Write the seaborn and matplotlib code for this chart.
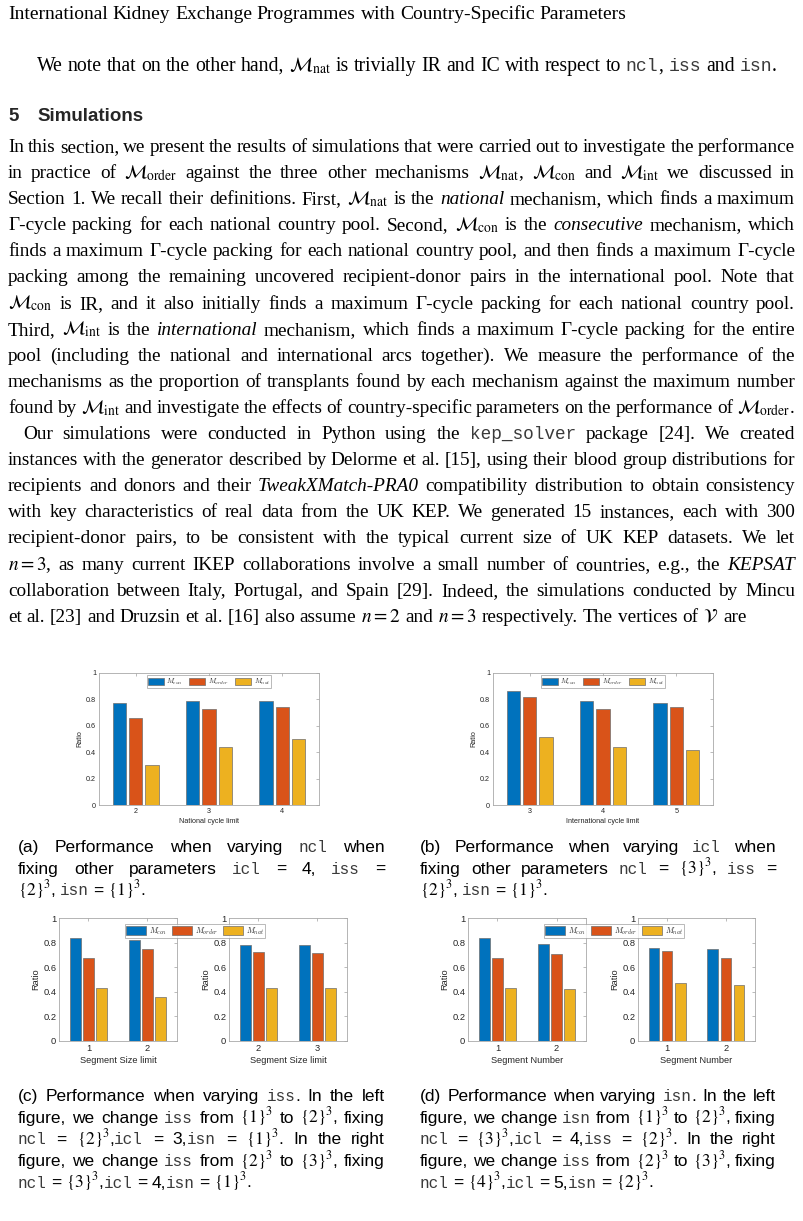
import numpy as np
import pandas as pd
import matplotlib
matplotlib.use('Agg')
import matplotlib.pyplot as plt
from matplotlib import font_manager
from matplotlib.patches import Patch
from matplotlib.ticker import FormatStrFormatter
import seaborn as sns

# --- data ---
mechs = ['$M_{con}$', '$M_{order}$', '$M_{nat}$']
colors = ['#0072BD', '#D95319', '#EDB120']

ncl_vals = ['2', '3', '4']
ncl_con = [0.776, 0.786, 0.791]
ncl_order = [0.656, 0.726, 0.739]
ncl_nat = [0.302, 0.437, 0.500]

icl_vals = ['3', '4', '5']
icl_con = [0.865, 0.787, 0.772]
icl_order = [0.815, 0.728, 0.744]
icl_nat = [0.515, 0.437, 0.416]

iss_left_vals = ['1', '2']
iss_left_con = [0.837, 0.823]
iss_left_order = [0.674, 0.750]
iss_left_nat = [0.429, 0.356]

iss_right_vals = ['2', '3']
iss_right_con = [0.783, 0.780]
iss_right_order = [0.723, 0.712]
iss_right_nat = [0.432, 0.427]

isn_left_vals = ['1', '2']
isn_left_con = [0.837, 0.785]
isn_left_order = [0.674, 0.704]
isn_left_nat = [0.429, 0.424]

isn_right_vals = ['1', '2']
isn_right_con = [0.755, 0.750]
isn_right_order = [0.734, 0.674]
isn_right_nat = [0.470, 0.454]

# --- page text ---
header = 'International Kidney Exchange Programmes with Country-Specific Parameters'
note_line = (r'We note that on the other hand, $\mathcal{M}_{\mathrm{nat}}$ is trivially IR and IC '
             r'with respect to `ncl`, `iss` and `isn`.')
para1 = [
    r'In this section, we present the results of simulations that were carried out to investigate the performance',
    r'in practice of $\mathcal{M}_{\mathrm{order}}$ against the three other mechanisms $\mathcal{M}_{\mathrm{nat}}$, $\mathcal{M}_{\mathrm{con}}$ and $\mathcal{M}_{\mathrm{int}}$ we discussed in',
    r'Section 1. We recall their definitions. First, $\mathcal{M}_{\mathrm{nat}}$ is the *national* mechanism, which finds a maximum',
    r'Γ-cycle packing for each national country pool. Second, $\mathcal{M}_{\mathrm{con}}$ is the *consecutive* mechanism, which',
    r'finds a maximum Γ-cycle packing for each national country pool, and then finds a maximum Γ-cycle',
    r'packing among the remaining uncovered recipient-donor pairs in the international pool. Note that',
    r'$\mathcal{M}_{\mathrm{con}}$ is IR, and it also initially finds a maximum Γ-cycle packing for each national country pool.',
    r'Third, $\mathcal{M}_{\mathrm{int}}$ is the *international* mechanism, which finds a maximum Γ-cycle packing for the entire',
    r'pool (including the national and international arcs together). We measure the performance of the',
    r'mechanisms as the proportion of transplants found by each mechanism against the maximum number',
    r'found by $\mathcal{M}_{\mathrm{int}}$ and investigate the effects of country-specific parameters on the performance of $\mathcal{M}_{\mathrm{order}}$.',
]
para2 = [
    r'Our simulations were conducted in Python using the `kep_solver` package [24]. We created',
    r'instances with the generator described by Delorme et al. [15], using their blood group distributions for',
    r'recipients and donors and their *TweakXMatch-PRA0* compatibility distribution to obtain consistency',
    r'with key characteristics of real data from the UK KEP. We generated 15 instances, each with 300',
    r'recipient-donor pairs, to be consistent with the typical current size of UK KEP datasets. We let',
    r'$n=3$, as many current IKEP collaborations involve a small number of countries, e.g., the *KEPSAT*',
    r'collaboration between Italy, Portugal, and Spain [29]. Indeed, the simulations conducted by Mincu',
    r'et al. [23] and Druzsin et al. [16] also assume $n=2$ and $n=3$ respectively. The vertices of $\mathcal{V}$ are',
]
cap_a = [r'(a) Performance when varying `ncl` when',
         r'fixing other parameters `icl` = 4, `iss` =',
         r'$\{2\}^3$, `isn` = $\{1\}^3$.']
cap_b = [r'(b) Performance when varying `icl` when',
         r'fixing other parameters `ncl` = $\{3\}^3$, `iss` =',
         r'$\{2\}^3$, `isn` = $\{1\}^3$.']
cap_c = [r'(c) Performance when varying `iss`. In the left',
         r'figure, we change `iss` from $\{1\}^3$ to $\{2\}^3$, fixing',
         r'`ncl` = $\{2\}^3$,`icl` = 3,`isn` = $\{1\}^3$. In the right',
         r'figure, we change `iss` from $\{2\}^3$ to $\{3\}^3$, fixing',
         r'`ncl` = $\{3\}^3$,`icl` = 4,`isn` = $\{1\}^3$.']
cap_d = [r'(d) Performance when varying `isn`. In the left',
         r'figure, we change `isn` from $\{1\}^3$ to $\{2\}^3$, fixing',
         r'`ncl` = $\{3\}^3$,`icl` = 4,`iss` = $\{2\}^3$. In the right',
         r'figure, we change `iss` from $\{2\}^3$ to $\{3\}^3$, fixing',
         r'`ncl` = $\{4\}^3$,`icl` = 5,`isn` = $\{2\}^3$.']

sns.set_style('white')
plt.rcParams['font.family'] = ['Liberation Sans', 'DejaVu Sans']
plt.rcParams['mathtext.fontset'] = 'stix'

installed = {f.name for f in font_manager.fontManager.ttflist}
if 'Liberation Sans Narrow' in installed:
    cap_family, cap_size = 'Liberation Sans Narrow', 13.5
else:
    cap_family, cap_size = 'Liberation Sans', 12.5

W, H = 804, 1221
fig = plt.figure(figsize=(W / 100, H / 100), dpi=100)
renderer = fig.canvas.get_renderer()


def fpos(x, y):
    return x / W, 1 - y / H


def split_segments(word):
    out = []
    for i, chunk in enumerate(word.split('`')):
        if not chunk:
            continue
        if i % 2:
            out.append((chunk, 'm'))
            continue
        for j, c in enumerate(chunk.split('*')):
            if c:
                out.append((c, 'i' if j % 2 else 'n'))
    return out


def draw_line(line, x0, x1, y, family, size, justify=True):
    """一行を単語ごとに置いて両端揃えにする"""
    items = []
    for word in line.split(' '):
        parts = []
        for s, kind in split_segments(word):
            kw = dict(fontsize=size, va='baseline', color='black')
            if kind == 'm':
                kw.update(family=['Liberation Mono', 'DejaVu Sans Mono'], fontsize=size * 0.92, color='#3a3a3a')
            else:
                kw.update(family=[family, 'DejaVu Sans'])
                if kind == 'i':
                    kw['style'] = 'italic'
            t = fig.text(0, 0, s, **kw)
            parts.append((t, t.get_window_extent(renderer).width))
        items.append(parts)
    total = sum(w for parts in items for _, w in parts)
    n = len(items)
    if justify and n > 1:
        gap = (x1 - x0 - total) / (n - 1)
    else:
        gap = size * 100 / 72 * 0.25
    x = x0
    for parts in items:
        for t, w in parts:
            t.set_position(fpos(x, y))
            x += w
        x += gap


def draw_block(lines, x0, x1, y0, step, family, size, indent=0, last_justify=False):
    for k, line in enumerate(lines):
        last = k == len(lines) - 1
        draw_line(line, x0 + (indent if k == 0 else 0), x1, y0 + k * step, family, size,
                  justify=(not last) or last_justify)


serif = 'Liberation Serif'
body_size = 13.9
draw_line(header, 8, 800, 19, serif, 14.0, justify=False)
draw_line(note_line, 37, 795, 71, serif, 14.2, justify=False)
fig.text(*fpos(8, 121), '5', fontsize=13.5, weight='bold', va='baseline')
fig.text(*fpos(37, 121), 'Simulations', fontsize=13.5, weight='bold', va='baseline')

step = 26.1
draw_block(para1, 8, 795, 152, step, serif, body_size, last_justify=True)
draw_block(para2, 8, 795, 152 + len(para1) * step, step, serif, body_size, indent=15)

cstep = 21.7
draw_block(cap_a, 18, 385, 852, cstep, cap_family, cap_size)
draw_block(cap_b, 420, 776, 852, cstep, cap_family, cap_size)
draw_block(cap_c, 18, 385, 1101, cstep, cap_family, cap_size)
draw_block(cap_d, 420, 776, 1101, cstep, cap_family, cap_size)


def legend_handles():
    return [Patch(facecolor=c, edgecolor='#6e6e6e', linewidth=0.5, label=m) for c, m in zip(colors, mechs)]


def bar_panel(box, vals, con, order, nat, xlabel, fs):
    x0, y0, x1, y1 = box
    ax = fig.add_axes([x0 / W, 1 - y1 / H, (x1 - x0) / W, (y1 - y0) / H])
    df = pd.DataFrame({
        'x': vals * 3,
        'ratio': con + order + nat,
        'mech': [m for m in mechs for _ in vals],
    })
    sns.barplot(data=df, x='x', y='ratio', hue='mech', order=vals, hue_order=mechs,
                palette=colors, saturation=1, width=0.67, gap=0.2, edgecolor='#6e6e6e',
                linewidth=0.5, legend=False, ax=ax)
    ax.set_ylim(0, 1)
    ax.set_xlim(-0.5, len(vals) - 0.5)
    ax.set_yticks(np.arange(0, 1.01, 0.2))
    ax.yaxis.set_major_formatter(FormatStrFormatter('%g'))
    ax.tick_params(direction='in', length=2.5, width=0.5, top=True, right=True,
                   color='#a0a0a0', labelcolor='#262626', labelsize=fs, pad=2)
    for sp in ax.spines.values():
        sp.set_color('#a8a8a8')
        sp.set_linewidth(0.6)
    ax.set_xlabel(xlabel, fontsize=fs, labelpad=2, color='#262626')
    ax.set_ylabel('Ratio', fontsize=fs, labelpad=2, color='#262626')
    return ax


def style_legend(leg):
    leg.get_frame().set_linewidth(0.6)
    leg.get_frame().set_edgecolor('#9a9a9a')
    for t in leg.get_texts():
        t.set_math_fontfamily('cm')


ax_a = bar_panel((99, 673, 319, 805), ncl_vals, ncl_con, ncl_order, ncl_nat, 'National cycle limit', 5.2)
ax_b = bar_panel((493, 673, 713, 805), icl_vals, icl_con, icl_order, icl_nat, 'International cycle limit', 5.2)
for ax in (ax_a, ax_b):
    leg = ax.legend(handles=legend_handles(), loc='upper center', ncol=3, fontsize=5.2,
                    frameon=True, fancybox=False, borderaxespad=0.3, handlelength=2.2,
                    handleheight=1.1, handletextpad=0.35, columnspacing=0.9, borderpad=0.2)
    style_legend(leg)

bar_panel((59, 918, 177, 1041), iss_left_vals, iss_left_con, iss_left_order, iss_left_nat, 'Segment Size limit', 6.7)
bar_panel((229, 918, 347, 1041), iss_right_vals, iss_right_con, iss_right_order, iss_right_nat, 'Segment Size limit', 6.7)
bar_panel((468, 918, 586, 1041), isn_left_vals, isn_left_con, isn_left_order, isn_left_nat, 'Segment Number', 6.7)
bar_panel((638, 918, 755, 1041), isn_right_vals, isn_right_con, isn_right_order, isn_right_nat, 'Segment Number', 6.7)
for cx in (195, 614):
    leg = fig.legend(handles=legend_handles(), loc='center', bbox_to_anchor=(cx / W, 1 - 931 / H),
                     ncol=3, fontsize=5.8, frameon=True, fancybox=False, handlelength=2.5,
                     handleheight=1.3, handletextpad=0.35, columnspacing=0.6, borderpad=0.15)
    style_legend(leg)

fig.savefig('out.png', dpi=100, facecolor='white')
